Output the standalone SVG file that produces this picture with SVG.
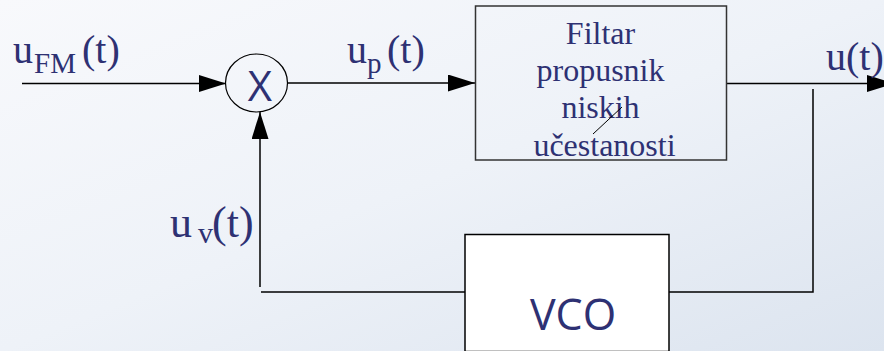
<svg xmlns="http://www.w3.org/2000/svg" width="884" height="351" viewBox="0 0 884 351">
  <defs>
    <linearGradient id="bg" x1="0" y1="0" x2="1" y2="1">
      <stop offset="0" stop-color="#f8f9fc"/>
      <stop offset="0.5" stop-color="#eef2f8"/>
      <stop offset="1" stop-color="#dce4ef"/>
    </linearGradient>
    <marker id="arr" viewBox="0 0 27 17" refX="27" refY="8.5" markerWidth="27" markerHeight="17" markerUnits="userSpaceOnUse" orient="auto">
      <path d="M0,0 L27,8.5 L0,17 Z" fill="#000"/>
    </marker>
    <style>
      .ser { font-family: "Liberation Serif", "Times New Roman", serif; fill: #2e3173; }
      .sans { font-family: "Open Sans", "Noto Sans", sans-serif; fill: #2e3173; }
      .ln { stroke: #000; stroke-width: 1.5; fill: none; }
    </style>
  </defs>
  <rect x="0" y="0" width="884" height="351" fill="url(#bg)"/>

  <g id="connectors">
    <line class="ln" x1="22" y1="83.5" x2="226" y2="83.5" marker-end="url(#arr)"/>
    <line class="ln" x1="287" y1="83" x2="475" y2="83" marker-end="url(#arr)"/>
    <line class="ln" x1="727" y1="83.5" x2="894" y2="83.5" marker-end="url(#arr)"/>
    <polyline class="ln" points="813,89 813,292 669,292"/>
    <line class="ln" x1="465" y1="292" x2="261" y2="292"/>
    <line class="ln" x1="260" y1="287" x2="260" y2="112" stroke="#555" marker-end="url(#arr)"/>
  </g>

  <g id="labels">
    <text class="ser" font-size="40"><tspan x="13" y="63">u</tspan><tspan x="34" y="73" font-size="29">FM</tspan><tspan x="82" y="63">(t)</tspan></text>
    <text class="ser" font-size="40"><tspan x="347" y="63">u</tspan><tspan x="367" y="73" font-size="29">p</tspan><tspan x="387" y="63">(t)</tspan></text>
    <text class="ser" font-size="40" x="826" y="70">u(t)</text>
    <text class="ser" font-size="44"><tspan x="170" y="237">u</tspan><tspan x="198" y="243" font-size="30">v</tspan><tspan x="212" y="237">(t)</tspan></text>
  </g>

  <g id="mixer">
    <ellipse cx="256.5" cy="83" rx="31" ry="29" fill="none" stroke="#000" stroke-width="1.2"/>
    <text class="sans" font-size="42" x="260" y="100.5" text-anchor="middle">X</text>
  </g>

  <g id="filter">
    <rect x="475.5" y="6" width="251" height="154" fill="none" stroke="#333" stroke-width="1.5"/>
    <text class="ser" font-size="32" text-anchor="middle">
      <tspan x="604.5" y="44">Filtar</tspan>
      <tspan x="604.5" y="81">propusnik</tspan>
      <tspan x="604.5" y="118">niskih</tspan>
      <tspan x="604.5" y="156">učestanosti</tspan>
    </text>
    <line x1="593" y1="134" x2="622" y2="107" stroke="#000" stroke-width="1"/>
  </g>

  <g id="vco">
    <rect x="465" y="234.5" width="204" height="117" fill="#fff" stroke="#000" stroke-width="1.5"/>
    <text class="sans" font-size="43" x="573" y="330" text-anchor="middle">VCO</text>
  </g>
</svg>
